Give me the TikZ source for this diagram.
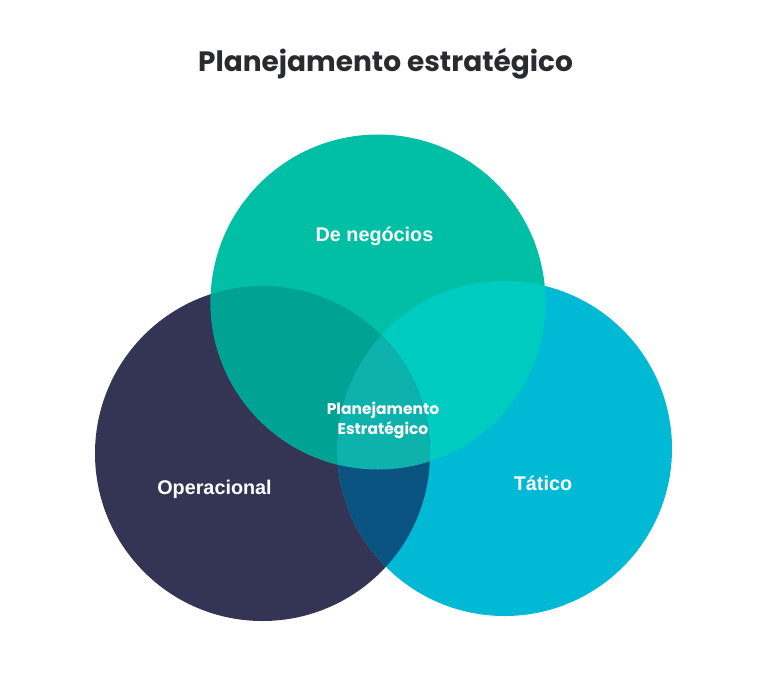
\documentclass[tikz,border=0pt]{standalone}
\usepackage{fontspec}
\setmainfont{Poppins}
\newfontfamily\poppinsB{Poppins}[UprightFont=* Bold]
\newfontfamily\labelfont{Liberation Sans}[UprightFont=* Bold]
\definecolor{cgreen}{HTML}{00BFA5}
\definecolor{cnavy}{HTML}{343554}
\definecolor{ccyan}{HTML}{00B9D5}
\definecolor{cgn}{HTML}{00A393}
\definecolor{cgc}{HTML}{00CBC0}
\definecolor{cnc}{HTML}{0A5280}
\definecolor{call}{HTML}{0DB2AD}
\definecolor{ctitle}{HTML}{2A2B30}
\begin{document}
\begin{tikzpicture}[x=1pt,y=-1pt,
  lbl/.style={text=white,font=\labelfont\fontsize{19.8}{22}\selectfont,inner sep=0pt}]
\useasboundingbox[fill=white] (0,0) rectangle (768,672);
\coordinate (G) at (378,302);
\coordinate (N) at (262.5,453.5);
\coordinate (C) at (504.5,448.5);
\def\R{167.5pt}
\fill[cnavy] (N) circle[radius=\R];
\fill[ccyan] (C) circle[radius=\R];
\fill[cgreen] (G) circle[radius=\R];
\begin{scope}
  \clip (G) circle[radius=\R];
  \fill[cgn] (N) circle[radius=\R];
  \fill[cgc] (C) circle[radius=\R];
\end{scope}
\begin{scope}
  \clip (N) circle[radius=\R];
  \fill[cnc] (C) circle[radius=\R];
  \clip (C) circle[radius=\R];
  \fill[call] (G) circle[radius=\R];
\end{scope}
\node[text=ctitle,font=\poppinsB\fontsize{28}{32}\selectfont,inner sep=0pt] (title) at (385.5,64) {Planejamento estratégico};
\node[lbl] (neg) at (374.5,236) {De negócios};
\node[lbl] (op) at (214.5,489) {Operacional};
\node[lbl] (tat) at (543,483) {Tático};
\node[text=white,font=\poppinsB\fontsize{15.5}{20}\selectfont,align=center,inner sep=0pt] (pe) at (383,420) {Planejamento\\Estratégico};
\end{tikzpicture}
\end{document}
